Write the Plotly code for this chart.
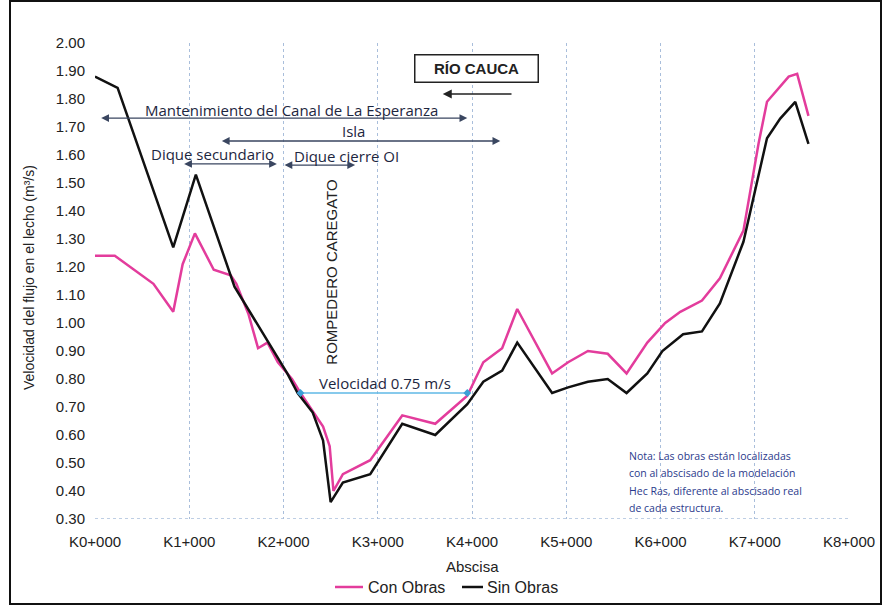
import plotly.graph_objects as go

# ---- data (km along the abscissa, velocity) ----
con_x = [0, 0.21, 0.62, 0.83, 0.93, 1.06, 1.26, 1.44, 1.50, 1.63,
         1.73, 1.83, 1.94, 2.09, 2.18, 2.34, 2.42, 2.49, 2.53, 2.63,
         2.92, 3.26, 3.61, 3.95, 4.12, 4.32, 4.48, 4.85, 5.02, 5.23,
         5.44, 5.64, 5.86, 6.05, 6.21, 6.44, 6.63, 6.88, 7.04, 7.13,
         7.36, 7.45, 7.57]
con_v = [1.24, 1.24, 1.14, 1.04, 1.21, 1.32, 1.19, 1.17, 1.14, 1.03,
         0.91, 0.93, 0.86, 0.80, 0.75, 0.67, 0.63, 0.56, 0.40, 0.46,
         0.51, 0.67, 0.64, 0.74, 0.86, 0.91, 1.05, 0.82, 0.86, 0.90,
         0.89, 0.82, 0.93, 1.00, 1.04, 1.08, 1.16, 1.33, 1.64, 1.79,
         1.88, 1.89, 1.74]

sin_x = [0, 0.24, 0.83, 1.07, 1.48, 2.04, 2.15, 2.31, 2.42, 2.50,
         2.63, 2.92, 3.26, 3.61, 3.95, 4.12, 4.32, 4.48, 4.85, 5.02,
         5.23, 5.44, 5.64, 5.86, 6.02, 6.24, 6.44, 6.63, 6.88, 7.13,
         7.27, 7.43, 7.57]
sin_v = [1.88, 1.84, 1.27, 1.53, 1.13, 0.82, 0.75, 0.68, 0.58, 0.36,
         0.43, 0.46, 0.64, 0.60, 0.71, 0.79, 0.83, 0.93, 0.75, 0.77,
         0.79, 0.80, 0.75, 0.82, 0.90, 0.96, 0.97, 1.07, 1.29, 1.66,
         1.73, 1.79, 1.64]

vel_x = [2.18, 3.95]
vel_y = [0.75, 0.75]

tick_vals = [0, 1, 2, 3, 4, 5, 6, 7, 8]
tick_text = ["K0+000", "K1+000", "K2+000", "K3+000", "K4+000",
             "K5+000", "K6+000", "K7+000", "K8+000"]

series_names = ["Con Obras", "Sin Obras"]
series_colors = ["#e33c9c", "#111111"]

# pixel -> paper helpers (plot area: x 95..849, y 43..519)
def px(p):
    return (p - 95) / 754.0

def py(p):
    return (519 - p) / 476.0

# ---- figure ----
fig = go.Figure()
fig.add_trace(go.Scatter(x=con_x, y=con_v, mode="lines", name=series_names[0],
                         line=dict(color=series_colors[0], width=2.5)))
fig.add_trace(go.Scatter(x=sin_x, y=sin_v, mode="lines", name=series_names[1],
                         line=dict(color=series_colors[1], width=2.5)))
fig.add_trace(go.Scatter(x=vel_x, y=vel_y, mode="lines+markers", showlegend=False,
                         line=dict(color="#5fb8e6", width=1.6),
                         marker=dict(color="#3d9fd6", size=6, symbol="diamond")))

tick_font = dict(family="Liberation Sans, Arial", size=15, color="#222222")
ann_font = dict(family="Open Sans, Noto Sans", size=15, color="#1d2640")

fig.update_layout(
    width=884, height=607,
    margin=dict(l=95, r=35, t=43, b=88, autoexpand=False),
    paper_bgcolor="white", plot_bgcolor="white",
    showlegend=False,
    xaxis=dict(range=[0, 8], tickvals=tick_vals, ticktext=tick_text,
               showgrid=True, gridcolor="#a9bedb", griddash="dot", gridwidth=1.2,
               zeroline=False, showline=False,
               ticks="outside", ticklen=9, tickcolor="rgba(0,0,0,0)",
               tickfont=tick_font),
    yaxis=dict(range=[0.3, 2.0], dtick=0.1, tick0=0.3, tickformat=".2f",
               showgrid=False, zeroline=False, showline=False,
               ticks="outside", ticklen=6, tickcolor="rgba(0,0,0,0)",
               tickfont=tick_font),
)

# bottom axis dotted line
fig.add_shape(type="line", xref="x", yref="y", x0=0, x1=8, y0=0.3, y1=0.3,
              line=dict(color="#a9bedb", width=1.5, dash="dot"))

# outer frame
fig.add_shape(type="rect", xref="paper", yref="paper",
              x0=px(10), x1=px(881), y0=py(604), y1=py(1),
              line=dict(color="#111111", width=2))

# axis titles
fig.add_annotation(xref="paper", yref="paper", x=px(29), y=py(278),
                   xanchor="center", yanchor="middle",
                   text="Velocidad del flujo en el lecho (m³/s)", textangle=-90,
                   showarrow=False, font=dict(family="Liberation Sans, Arial", size=14, color="#222222"))
fig.add_annotation(xref="paper", yref="paper", x=px(472), y=py(566),
                   xanchor="center", yanchor="middle",
                   text="Abscisa", showarrow=False,
                   font=dict(family="Liberation Sans, Arial", size=15, color="#222222"))

# manual legend
legend_items = [(335, 363, 366), (462, 483, 485)]
for (l0, l1, tx), name, col in zip(legend_items, series_names, series_colors):
    fig.add_shape(type="line", xref="paper", yref="paper",
                  x0=px(l0), x1=px(l1), y0=py(587), y1=py(587),
                  line=dict(color=col, width=2.5))
    fig.add_annotation(xref="paper", yref="paper", x=px(tx), y=py(587),
                       xanchor="left", yanchor="middle", text=name, showarrow=False,
                       font=dict(family="Liberation Sans, Arial", size=16, color="#222222"))

# RIO CAUCA box
fig.add_annotation(x=4.05, y=1.91, xref="x", yref="y", text="<b>RÍO CAUCA</b>",
                   showarrow=False, bordercolor="#222222", borderwidth=1.5,
                   width=118, height=22, borderpad=2, bgcolor="white",
                   font=dict(family="Liberation Sans, Arial", size=15, color="#222222"))
fig.add_annotation(x=3.69, y=1.818, ax=4.435, ay=1.818, xref="x", yref="y",
                   axref="x", ayref="y", text="", showarrow=True,
                   arrowhead=2, arrowsize=1.2, arrowwidth=1.5, arrowcolor="#222222")

# double-headed arrows
arrows = [
    (0.05, 3.95, 1.732),
    (1.33, 4.30, 1.650),
    (0.93, 1.93, 1.568),
    (1.995, 2.76, 1.564),
]
for x0, x1, yv in arrows:
    fig.add_annotation(x=x1, y=yv, ax=x0, ay=yv, xref="x", yref="y",
                       axref="x", ayref="y", text="", showarrow=True,
                       arrowhead=2, startarrowhead=2, arrowside="end+start",
                       arrowsize=1.2, startarrowsize=1.2,
                       arrowwidth=1.3, arrowcolor="#3a4660")

labels = [
    ("Mantenimiento del Canal de La Esperanza", 2.09, 1.762),
    ("Isla", 2.74, 1.685),
    ("Dique secundario", 1.25, 1.603),
    ("Dique cierre OI", 2.67, 1.598),
    ("Velocidad 0.75 m/s", 3.08, 0.785),
]
for txt, xv, yv in labels:
    fig.add_annotation(x=xv, y=yv, xref="x", yref="y", text=txt, showarrow=False,
                       font=ann_font)

fig.add_annotation(x=2.50, y=0.3 + (519 - 272) / 280, xref="x", yref="y",
                   text="ROMPEDERO CAREGATO", textangle=-90, showarrow=False,
                   font=dict(family="Liberation Sans, Arial", size=15, color="#222222"))

note_lines = ["Nota: Las obras están localizadas",
              "con al abscisado de la modelación",
              "Hec Ras, diferente al abscisado real",
              "de cada estructura."]
for i, ln in enumerate(note_lines):
    fig.add_annotation(xref="paper", yref="paper", x=px(627),
                       y=py(456 + 17.3 * i), xanchor="left", yanchor="middle",
                       text=ln, showarrow=False,
                       font=dict(family="Open Sans, Noto Sans", size=10.5, color="#2b3a8c"))

fig.write_html("out.html")
